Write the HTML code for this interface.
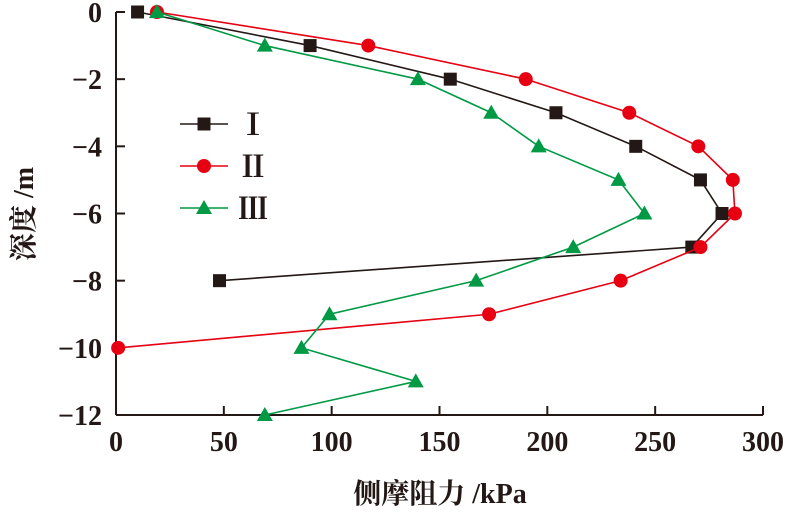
<!DOCTYPE html>
<html><head><meta charset="utf-8"><style>
html,body{margin:0;padding:0;background:#fff;}
svg{display:block;}
text{font-family:"Liberation Serif","Noto Serif CJK SC",serif;fill:#231815;font-weight:bold;}
</style></head><body>
<svg id="chart" width="792" height="513" viewBox="0 0 792 513">
<g id="axes"></g>
<g id="series"></g>
<g id="legend"></g>
<text x="440" y="503" font-size="28" text-anchor="middle">侧摩阻力 /kPa</text>
<text transform="translate(33,214) rotate(-90)" font-size="28" text-anchor="middle">深度 /m</text>
</svg>
<script>
const xTicks=[0,50,100,150,200,250,300];
const yTicks=[0,-2,-4,-6,-8,-10,-12];
const yTickLabels=["0","\u22122","\u22124","\u22126","\u22128","\u221210","\u221212"];
const seriesNames=["Ⅰ","Ⅱ","Ⅲ"];
const depthI=[0,-1,-2,-3,-4,-5,-6,-7,-8];
const valsI=[10,90,155,204,241,271,281,267,48];
const depthII=[0,-1,-2,-3,-4,-5,-6,-7,-8,-9,-10];
const valsII=[19,117,190,238,270,286,287,271,234,173,1];
const depthIII=[0,-1,-2,-3,-4,-5,-6,-7,-8,-9,-10,-11,-12];
const valsIII=[19,69,140,174,196,233,245,212,167,99,86,139,69];
const colors=["#231815","#e60012","#009944"];
const markers=["square","circle","triangle"];
const X0=116,X1=763,Y0=12,Y1=415;
const sx=v=>X0+(v-0)/300*(X1-X0);
const sy=v=>Y0+(0-v)/12*(Y1-Y0);
const NS="http://www.w3.org/2000/svg";
function mk(tag,attrs,parent){const e=document.createElementNS(NS,tag);for(const k in attrs)e.setAttribute(k,attrs[k]);parent.appendChild(e);return e;}
const axes=document.getElementById('axes');
let l=mk('line',{x1:X0,y1:Y0,x2:X0,y2:Y1,stroke:'#231815','stroke-width':2},axes);


l=mk('line',{x1:X0,y1:Y1,x2:X1,y2:Y1,stroke:'#231815','stroke-width':2},axes);


xTicks.forEach(v=>{
 const x=sx(v);
 const t=mk('line',{x1:x,y1:Y1,x2:x,y2:Y1-9,stroke:'#231815','stroke-width':2},axes);
 
 
 const tx=mk('text',{x:x,y:451,'font-size':28,'text-anchor':'middle'},axes);
 tx.textContent=String(v);
 
 
});
yTicks.forEach((v,i)=>{
 const y=sy(v);
 const t=mk('line',{x1:X0,y1:y,x2:X0+9,y2:y,stroke:'#231815','stroke-width':2},axes);
 
 
 const tx=mk('text',{x:102,y:y+10,'font-size':28,'text-anchor':'end'},axes);
 tx.textContent=yTickLabels[i];
 
 
});
function marker(kind,x,y,c,parent){
 let m;
 if(kind==='square')m=mk('rect',{x:x-6.5,y:y-6.5,width:13,height:13,fill:c},parent);
 else if(kind==='circle')m=mk('circle',{cx:x,cy:y,r:7,fill:c},parent);
 else m=mk('polygon',{points:`${x},${y-8} ${x+8},${y+6} ${x-8},${y+6}`,fill:c},parent);
 return m;
}
const data=[[valsI,depthI],[valsII,depthII],[valsIII,depthIII]];
const sg=document.getElementById('series');
data.forEach((d,i)=>{
 const g=mk('g',{},sg);
 
 
 const pts=d[0].map((v,j)=>sx(v)+','+sy(d[1][j])).join(' ');
 const pl=mk('polyline',{points:pts,fill:'none',stroke:colors[i],'stroke-width':1.6},g);
 
 
 d[0].forEach((v,j)=>{
  const m=marker(markers[i],sx(v),sy(d[1][j]),colors[i],g);
  
  
 });
});
const lg=document.getElementById('legend');
seriesNames.forEach((n,i)=>{
 const y=124+i*42;
 const g=mk('g',{},lg);
 
 
 mk('line',{x1:180,y1:y,x2:228,y2:y,stroke:colors[i],'stroke-width':1.6},g);
 marker(markers[i],204,y,colors[i],g);
 const t=mk('text',{x:238,y:y+11,'font-size':30},g);
 t.textContent=n;
});
</script>
</body></html>
